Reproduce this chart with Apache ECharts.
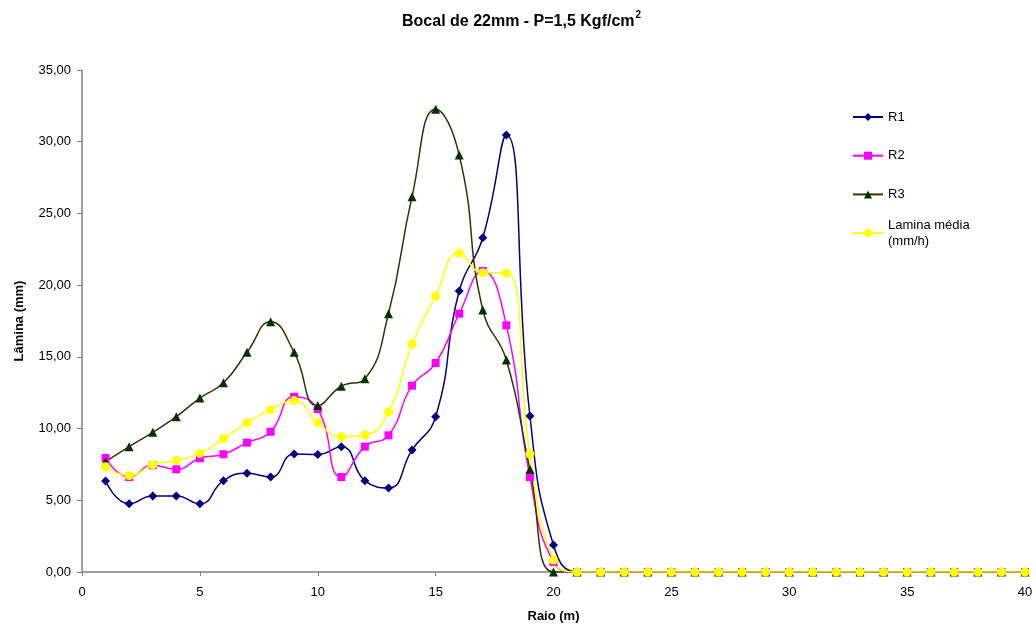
<!DOCTYPE html>
<html>
<head>
<meta charset="utf-8">
<script src="https://cdn.jsdelivr.net/npm/echarts@6/dist/echarts.min.js"></script>
<style>
html,body{margin:0;padding:0;background:#fff;}
#c{width:1036px;height:631px;}
</style>
</head>
<body>
<div id="c"></div>
<script>
const raio = [1,2,3,4,5,6,7,8,9,10,11,12,13,14,15,16,17,18,19,20,21,22,23,24,25,26,27,28,29,30,31,32,33,34,35,36,37,38,39,40];
const r1 = [6.35,4.75,5.30,5.30,4.75,6.37,6.88,6.62,8.23,8.20,8.74,6.37,5.86,8.51,10.83,19.59,23.31,30.47,10.88,1.88,0,0,0,0,0,0,0,0,0,0,0,0,0,0,0,0,0,0,0,0];
const r2 = [7.95,6.62,7.44,7.16,7.93,8.21,9.02,9.78,12.22,11.36,6.62,8.74,9.53,12.99,14.57,18.01,20.99,17.20,6.62,0.70,0,0,0,0,0,0,0,0,0,0,0,0,0,0,0,0,0,0,0,0];
const r3 = [7.69,8.74,9.74,10.83,12.13,13.20,15.32,17.45,15.32,11.60,12.95,13.48,18.01,26.17,32.26,29.07,18.27,14.78,7.16,0,0,0,0,0,0,0,0,0,0,0,0,0,0,0,0,0,0,0,0,0];
const media = [7.34,6.72,7.48,7.78,8.27,9.30,10.41,11.32,11.95,10.41,9.43,9.55,11.16,15.90,19.24,22.24,20.87,20.85,8.23,0.84,0,0,0,0,0,0,0,0,0,0,0,0,0,0,0,0,0,0,0,0];
const seriesNames = ['R1','R2','R3','Lamina média (mm/h)'];
const yTicks = {min:0, max:35, interval:5};
const xTicks = {min:0, max:40, interval:5};

const pair = (ys) => raio.map((x,i)=>[x, ys[i]]);
const FONT = 'Arial, "Liberation Sans", sans-serif';

const chart = echarts.init(document.getElementById('c'), null, {renderer:'canvas'});
chart.setOption({
  animation:false,
  backgroundColor:'#fff',
  title:{
    text:'{a|Bocal de 22mm - P=1,5 Kgf/cm}{s|2}',
    left:397, top:5,
    textStyle:{
      rich:{
        a:{fontFamily:FONT, fontSize:16, fontWeight:'bold', color:'#000', verticalAlign:'bottom', lineHeight:20},
        s:{fontFamily:FONT, fontSize:10, fontWeight:'bold', color:'#000', verticalAlign:'top', padding:[0,0,9,1], lineHeight:20}
      }
    }
  },
  grid:{left:82, right:11, top:70, bottom:59, containLabel:false},
  legend:{
    orient:'vertical',
    left:852, top:93, padding:0,
    itemWidth:30, itemHeight:10, itemGap:-9.3,
    data:[
      {name:seriesNames[0], textStyle:{padding:[16,0,16,0]}},
      {name:seriesNames[1], textStyle:{padding:[16,0,16,0]}},
      {name:seriesNames[2], textStyle:{padding:[16,0,16,0]}},
      {name:seriesNames[3], textStyle:{padding:[16,0,0,0]}}
    ],
    formatter:(n)=> n==='Lamina média (mm/h)' ? 'Lamina média\n(mm/h)' : n,
    textStyle:{fontFamily:FONT, fontSize:13, color:'#000', lineHeight:16}
  },
  xAxis:{
    type:'value', min:xTicks.min, max:xTicks.max, interval:xTicks.interval,
    name:'Raio (m)', nameLocation:'middle', nameGap:38,
    nameTextStyle:{fontFamily:FONT, fontSize:13, fontWeight:'bold', color:'#000'},
    axisLine:{show:true, onZero:false, lineStyle:{color:'#808080', width:1.5}},
    axisTick:{show:true, length:4, inside:false, lineStyle:{color:'#808080'}},
    axisLabel:{fontFamily:FONT, fontSize:13, color:'#000', margin:14},
    splitLine:{show:false}
  },
  yAxis:{
    type:'value', min:yTicks.min, max:yTicks.max, interval:yTicks.interval,
    name:'Lâmina (mm)', nameLocation:'middle', nameGap:56,
    nameTextStyle:{fontFamily:FONT, fontSize:13, fontWeight:'bold', color:'#000'},
    axisLine:{show:true, lineStyle:{color:'#808080', width:1.5}},
    axisTick:{show:true, length:5, lineStyle:{color:'#808080'}},
    axisLabel:{fontFamily:FONT, fontSize:13, color:'#000', margin:11,
      formatter:(v)=> v.toFixed(2).replace('.',',')},
    splitLine:{show:false}
  },
  series:[
    {name:seriesNames[0], type:'line', data:pair(r1), smooth:0.5,
     symbol:'diamond', symbolSize:9, showAllSymbol:true,
     lineStyle:{color:'#000080', width:1.5}, itemStyle:{color:'#000080'}},
    {name:seriesNames[1], type:'line', data:pair(r2), smooth:0.5,
     symbol:'rect', symbolSize:8, showAllSymbol:true,
     lineStyle:{color:'#FF00FF', width:1.5}, itemStyle:{color:'#FF00FF'}},
    {name:seriesNames[2], type:'line', data:pair(r3), smooth:0.5,
     symbol:'triangle', symbolSize:9, showAllSymbol:true,
     lineStyle:{color:'#333300', width:1.5}, itemStyle:{color:'#003300'}},
    {name:seriesNames[3], type:'line', data:pair(media), smooth:0.5,
     symbol:'circle', symbolSize:9, showAllSymbol:true,
     lineStyle:{color:'#FFFF00', width:1.5}, itemStyle:{color:'#FFFF00'}}
  ]
});
</script>
</body>
</html>
